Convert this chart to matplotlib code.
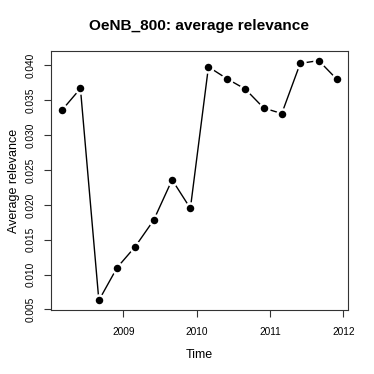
import matplotlib
matplotlib.use("Agg")
import matplotlib.pyplot as plt
import numpy as np
import pandas as pd

plt.rcParams["font.family"] = ["Liberation Sans", "DejaVu Sans"]

# quarterly observations (first of Mar/Jun/Sep/Dec)
dates = ["2008-03-01", "2008-06-01", "2008-09-01", "2008-12-01",
         "2009-03-01", "2009-06-01", "2009-09-01", "2009-12-01",
         "2010-03-01", "2010-06-01", "2010-09-01", "2010-12-01",
         "2011-03-01", "2011-06-01", "2011-09-01", "2011-12-01"]
relevance = [0.0336, 0.0367, 0.0063, 0.0110, 0.0140, 0.0178, 0.0236, 0.0195,
             0.0398, 0.0381, 0.0366, 0.0339, 0.0331, 0.0403, 0.0407, 0.0380]
year_ticks = [2009, 2010, 2011, 2012]
y_ticks = [0.005, 0.010, 0.015, 0.020, 0.025, 0.030, 0.035, 0.040]

d = pd.to_datetime(dates)
t = d.year + (d.dayofyear - 1) / np.where(d.is_leap_year, 366, 365)
t = np.asarray(t, dtype=float)
y = np.asarray(relevance)

fig = plt.figure(figsize=(3.74, 3.74), dpi=100)
ax = fig.add_axes([51 / 374, 64 / 374, 297 / 374, 259 / 374])

# R type="b": lines broken around the points
ax.plot(t, y, color="black", lw=1.0, zorder=2)
ax.plot(t, y, "o", color="black", ms=5.4, mec="white", mew=3.6, zorder=3)
ax.plot(t, y, "o", color="black", ms=5.4, mew=0, zorder=4)

pad_x = 0.04 * (t.max() - t.min())
pad_y = 0.04 * (y.max() - y.min())
ax.set_xlim(t.min() - pad_x, t.max() + pad_x)
ax.set_ylim(y.min() - pad_y, y.max() + pad_y)

ax.set_xticks(year_ticks)
ax.set_xticklabels([str(v) for v in year_ticks], fontsize=7.3)
ax.set_yticks(y_ticks)
ax.set_yticklabels([f"{v:.3f}" for v in y_ticks], fontsize=7.3,
                   rotation=90, va="center")
ax.tick_params(direction="out", length=5, width=0.8, color="#333333")
ax.tick_params(axis="x", pad=7)
ax.tick_params(axis="y", pad=6)
for s in ax.spines.values():
    s.set_linewidth(0.8)
    s.set_color("#333333")

ax.set_xlabel("Time", fontsize=9, labelpad=9)
ax.set_ylabel("Average relevance", fontsize=9, labelpad=4)
fig.text(199 / 374, 1 - 26 / 374, "OeNB_800: average relevance",
         fontsize=11.1, fontweight="bold", ha="center", va="center")

fig.savefig("out.png", dpi=100)
